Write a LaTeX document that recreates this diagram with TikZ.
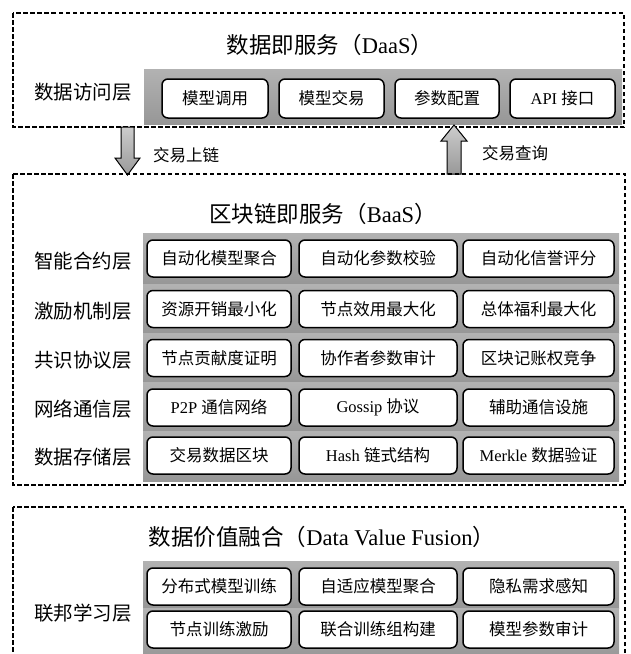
\documentclass[tikz,border=0pt]{standalone}
\usepackage{fontspec}
\setmainfont{Liberation Serif}
\newfontfamily\cjk{Noto Sans CJK SC}
\newcommand{\zhtxt}[1]{{\cjk #1}}
\tikzset{
  dashbox/.style={draw, dash pattern=on 4.5pt off 2.5pt, line width=1.1pt},
  band/.style={top color=gray!60, bottom color=gray!82, draw=none},
  item/.style={draw, rounded corners=6pt, line width=1.5pt, fill=white, inner sep=0pt,
    minimum height=37pt, font=\fontsize{16.5}{18}\selectfont},
  layerlab/.style={font=\fontsize{19.5}{22}\selectfont, inner sep=0pt},
  titlelab/.style={font=\fontsize{22.5}{25}\selectfont, inner sep=0pt},
  arrlab/.style={font=\fontsize{16.5}{18}\selectfont, inner sep=0pt, anchor=west},
  blockarrow/.style={draw, line width=1pt, top color=gray!40, bottom color=gray!80}
}
\begin{document}
\begin{tikzpicture}[x=1pt,y=-1pt]
\useasboundingbox (0,0) rectangle (630,654);
\clip (0,0) rectangle (630,654);
\fill[white] (0,0) rectangle (630,654);

% ---------- DaaS ----------
\draw[dashbox] (13,13) rectangle (624,127);
\node[titlelab] (tdaas) at (330,45) {\zhtxt{数据即服务（}DaaS\zhtxt{）}};
\path[band] (144,69) rectangle (622,124);
\node[layerlab] (ldaas) at (83,92) {\zhtxt{数据访问层}};
\node[item, minimum width=106pt, minimum height=39pt] (d1) at (215,98.5) {\zhtxt{模型调用}};
\node[item, minimum width=105pt, minimum height=39pt] (d2) at (331.5,98.5) {\zhtxt{模型交易}};
\node[item, minimum width=104pt, minimum height=39pt] (d3) at (447,98.5) {\zhtxt{参数配置}};
\node[item, minimum width=105pt, minimum height=39pt] (d4) at (562.5,98.5) {API \zhtxt{接口}};

% ---------- arrows ----------
\path[blockarrow] (121,127) -- (121,158) -- (115,158) -- (127.5,175) -- (140,158) -- (134,158) -- (134,127) -- cycle;
\node[arrlab] (a1) at (153,155) {\zhtxt{交易上链}};
\path[blockarrow] (447,174) -- (447,141) -- (441,141) -- (454,125) -- (467,141) -- (461,141) -- (461,174) -- cycle;
\node[arrlab] (a2) at (482,153) {\zhtxt{交易查询}};

% ---------- BaaS ----------
\draw[dashbox] (13,174) rectangle (625,485);
\node[titlelab] (tbaas) at (323,214) {\zhtxt{区块链即服务（}BaaS\zhtxt{）}};
\path[band] (143,233) rectangle (619,284);
\path[band] (143,284) rectangle (619,333);
\path[band] (143,333) rectangle (619,382);
\path[band] (143,382) rectangle (619,431);
\path[band] (143,431) rectangle (619,481);

\node[layerlab] (l1) at (83,261) {\zhtxt{智能合约层}};
\node[layerlab] (l2) at (83,311) {\zhtxt{激励机制层}};
\node[layerlab] (l3) at (83,360) {\zhtxt{共识协议层}};
\node[layerlab] (l4) at (83,409) {\zhtxt{网络通信层}};
\node[layerlab] (l5) at (83,457) {\zhtxt{数据存储层}};

\node[item, minimum width=144pt] (b11) at (219,258.5) {\zhtxt{自动化模型聚合}};
\node[item, minimum width=158pt] (b12) at (378,258.5) {\zhtxt{自动化参数校验}};
\node[item, minimum width=151pt] (b13) at (538.5,258.5) {\zhtxt{自动化信誉评分}};

\node[item, minimum width=144pt] (b21) at (219,309) {\zhtxt{资源开销最小化}};
\node[item, minimum width=158pt] (b22) at (378,309) {\zhtxt{节点效用最大化}};
\node[item, minimum width=151pt] (b23) at (538.5,309) {\zhtxt{总体福利最大化}};

\node[item, minimum width=144pt] (b31) at (219,358) {\zhtxt{节点贡献度证明}};
\node[item, minimum width=158pt] (b32) at (378,358) {\zhtxt{协作者参数审计}};
\node[item, minimum width=151pt] (b33) at (538.5,358) {\zhtxt{区块记账权竞争}};

\node[item, minimum width=144pt] (b41) at (219,407.5) {P2P \zhtxt{通信网络}};
\node[item, minimum width=158pt] (b42) at (378,407.5) {Gossip \zhtxt{协议}};
\node[item, minimum width=151pt] (b43) at (538.5,407.5) {\zhtxt{辅助通信设施}};

\node[item, minimum width=144pt] (b51) at (219,455.5) {\zhtxt{交易数据区块}};
\node[item, minimum width=158pt] (b52) at (378,455.5) {Hash \zhtxt{链式结构}};
\node[item, minimum width=151pt] (b53) at (538.5,455.5) {Merkle \zhtxt{数据验证}};

% ---------- Data Value Fusion ----------
\draw[dashbox] (13,507) rectangle (625,680);
\node[titlelab] (tfus) at (322,537) {\zhtxt{数据价值融合（}Data Value Fusion\zhtxt{）}};
\path[band] (143,561) rectangle (619,608);
\path[band] (143,608) rectangle (619,660);
\node[layerlab] (lf) at (83,613) {\zhtxt{联邦学习层}};

\node[item, minimum width=144pt] (f11) at (219,586.5) {\zhtxt{分布式模型训练}};
\node[item, minimum width=158pt] (f12) at (378,586.5) {\zhtxt{自适应模型聚合}};
\node[item, minimum width=151pt] (f13) at (538.5,586.5) {\zhtxt{隐私需求感知}};

\node[item, minimum width=144pt] (f21) at (219,629.5) {\zhtxt{节点训练激励}};
\node[item, minimum width=158pt] (f22) at (378,629.5) {\zhtxt{联合训练组构建}};
\node[item, minimum width=151pt] (f23) at (538.5,629.5) {\zhtxt{模型参数审计}};
\end{tikzpicture}
\end{document}
